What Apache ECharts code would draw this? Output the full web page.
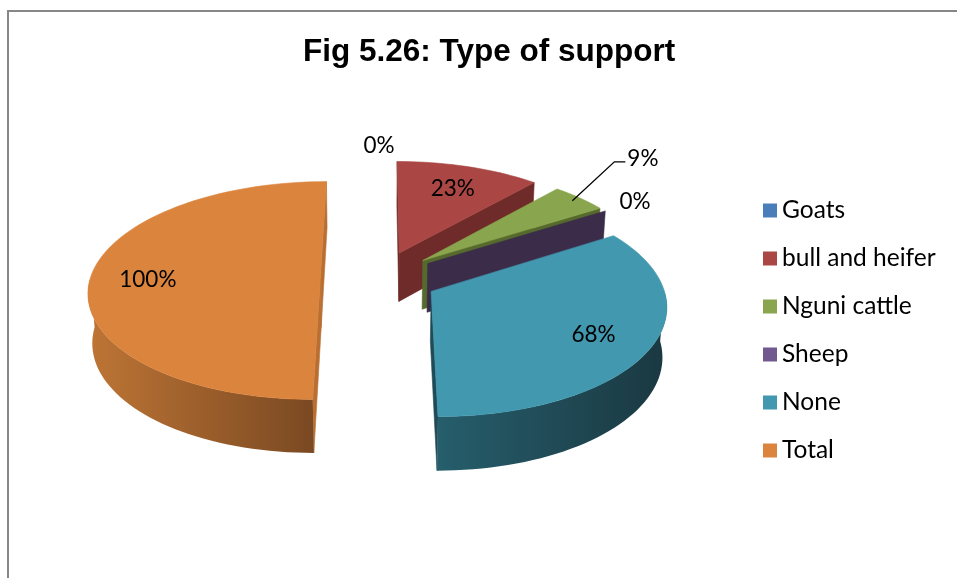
<!DOCTYPE html>
<html>
<head>
<meta charset="utf-8">
<script src="https://cdn.jsdelivr.net/npm/echarts@6/dist/echarts.min.js"></script>
<style>
  html, body { margin: 0; padding: 0; background: #fff; }
  #chart { width: 957px; height: 578px; }
</style>
</head>
<body>
<div id="chart"></div>
<script>
// Slice categories and their shares (percent of respondents)
const categories = ['Goats', 'bull and heifer', 'Nguni cattle', 'Sheep', 'None', 'Total'];
const shares = [0, 23, 9, 0, 68, 100];

// Face colours: top surface, cut faces, and outer wall gradient (light -> dark)
const topColors = ['#4A7EBB', '#AA4643', '#89A54E', '#71588F', '#4198AF', '#DB843D'];
const cutColors = ['#2B4A6E', '#6E2B29', '#556A2C', '#3B2C4A', '#1E4B57', '#B86F31'];
const wallColors = [
  ['#3E6A9C', '#243F5E'], ['#8A3836', '#5A2321'], ['#71893F', '#465726'],
  ['#5D4875', '#382B47'], ['#265E6C', '#1A3841'], ['#BE7535', '#7A4922']
];

// Camera / pie setup for the tilted 3D pie
const view = { cx: 379, cy: 278, scale: 230, tilt: 27.85, dist: 7.7, explode: 0.255, thickness: 0.246 };

const rad = Math.PI / 180;
const sinA = Math.sin(view.tilt * rad), cosA = Math.cos(view.tilt * rad);
const cam = [0, view.dist * sinA, -view.dist * cosA];
const total = shares.reduce((a, b) => a + b, 0);

function project(X, Y, Z) {
  const yc = Z * sinA + Y * cosA;
  const dc = Z * cosA - Y * sinA;
  const s = view.dist / (view.dist + dc);
  return [view.cx + view.scale * X * s, view.cy - view.scale * yc * s];
}

// Angular layout: clockwise from 12 o'clock, each slice pushed out along its mid angle
function layoutSlices() {
  let acc = 0;
  return shares.map(v => {
    const a1 = acc / total * 2 * Math.PI; acc += v;
    const a2 = acc / total * 2 * Math.PI;
    const mid = (a1 + a2) / 2;
    return { a1, a2, mid, ox: view.explode * Math.sin(mid), oz: view.explode * Math.cos(mid) };
  });
}
const slices = layoutSlices();

function pt(sl, t, r, Y) { return [sl.ox + r * Math.sin(t), Y, sl.oz + r * Math.cos(t)]; }
function camDist(p) { return Math.hypot(p[0] - cam[0], p[1] - cam[1], p[2] - cam[2]); }
function centroid(list) {
  const c = [0, 0, 0];
  list.forEach(p => { c[0] += p[0]; c[1] += p[1]; c[2] += p[2]; });
  return c.map(v => v / list.length);
}
function facesCamera(c, n) {
  return n[0] * (cam[0] - c[0]) + n[1] * (cam[1] - c[1]) + n[2] * (cam[2] - c[2]) > 1e-6;
}

// Build every visible face of the pie once, then order them back to front
const faces = [];
slices.forEach((sl, i) => {
  const h = -view.thickness;
  [[sl.a1, -1], [sl.a2, 1]].forEach(([t, sg]) => {
    const p3 = [pt(sl, t, 0, 0), pt(sl, t, 1, 0), pt(sl, t, 1, h), pt(sl, t, 0, h)];
    const c = centroid(p3);
    const n = [sg * Math.cos(t), 0, -sg * Math.sin(t)];
    if (facesCamera(c, n)) {
      faces.push({ slice: i, kind: 'cut', pts: p3.map(p => project(...p)), depth: camDist(c) });
    }
  });
  const w1 = Math.max(sl.a1, Math.PI / 2), w2 = Math.min(sl.a2, 1.5 * Math.PI);
  if (w2 > w1) {
    const n = Math.max(2, Math.ceil((w2 - w1) / (2 * rad)));
    const topArc = [], botArc = [];
    for (let k = 0; k <= n; k++) {
      const t = w1 + (w2 - w1) * k / n;
      topArc.push(project(...pt(sl, t, 1, 0)));
      botArc.push(project(...pt(sl, t, 1, h)));
    }
    faces.push({ slice: i, kind: 'wall', pts: topArc.concat(botArc.reverse()),
      depth: camDist(pt(sl, (w1 + w2) / 2, 1, h / 2)) });
  }
  if (sl.a2 > sl.a1) {
    const n = Math.max(2, Math.ceil((sl.a2 - sl.a1) / (2 * rad)));
    const pts = [project(...pt(sl, 0, 0, 0))];
    for (let k = 0; k <= n; k++) {
      pts.push(project(...pt(sl, sl.a1 + (sl.a2 - sl.a1) * k / n, 1, 0)));
    }
    faces.push({ slice: i, kind: 'top', pts, depth: 0 });
  }
});
faces.filter(f => f.kind !== 'top')
  .sort((a, b) => b.depth - a.depth)
  .forEach((f, k) => { f.z2 = 10 + k; });
faces.filter(f => f.kind === 'top').forEach(f => { f.z2 = 500 + f.slice; });

const labelFont = { fontFamily: 'Lato', fontSize: 22.5, fill: '#000' };

function faceElement(f) {
  const i = f.slice;
  let fill;
  if (f.kind === 'top') fill = topColors[i];
  else if (f.kind === 'cut') fill = cutColors[i];
  else fill = new echarts.graphic.LinearGradient(0, 0, 1, 0, [
    { offset: 0, color: wallColors[i][0] }, { offset: 1, color: wallColors[i][1] }
  ]);
  return {
    type: 'polygon', z2: f.z2,
    shape: { points: f.pts },
    style: { fill, stroke: f.kind === 'wall' ? null : fill, lineWidth: 0.6 }
  };
}

function labelElements(i, value) {
  const sl = slices[i];
  const text = value + '%';
  if (value === 0) {
    const p = project(...pt(sl, sl.mid, 1.18, 0));
    return [{ type: 'text', z2: 900, x: p[0], y: p[1],
      style: Object.assign({ text, align: 'center', verticalAlign: 'middle' }, labelFont) }];
  }
  if (value < 10) {
    const s = project(...pt(sl, sl.mid, 0.95, 0));
    const e = [s[0] + 42, s[1] - 39];
    const f = [e[0] + 11, e[1]];
    return [
      { type: 'polyline', z2: 900, shape: { points: [s, e, f] }, style: { stroke: '#000', lineWidth: 1.3, fill: null } },
      { type: 'text', z2: 900, x: f[0] + 2, y: f[1] - 3,
        style: Object.assign({ text, align: 'left', verticalAlign: 'middle' }, labelFont) }
    ];
  }
  const p = project(...pt(sl, sl.mid, 0.75, 0));
  return [{ type: 'text', z2: 900, x: p[0], y: p[1] + 2,
    style: Object.assign({ text, align: 'center', verticalAlign: 'middle' }, labelFont) }];
}

const chart = echarts.init(document.getElementById('chart'), null, { renderer: 'canvas' });

chart.setOption({
  animation: false,
  backgroundColor: '#fff',
  color: topColors,
  title: {
    text: 'Fig 5.26: Type of support',
    left: 298, top: 31,
    textStyle: { fontFamily: 'Liberation Sans', fontWeight: 'bold', fontSize: 31.5, color: '#000' }
  },
  legend: {
    orient: 'vertical', left: 763, top: 198, padding: 0,
    itemWidth: 14, itemHeight: 14, itemGap: 23, icon: 'rect',
    selectedMode: false,
    data: categories,
    textStyle: { fontFamily: 'Lato', fontSize: 24.5, lineHeight: 25, color: '#000' }
  },
  graphic: [{
    type: 'rect', silent: true, z: -1,
    shape: { x: 8, y: 11, width: 1000, height: 1000 },
    style: { fill: null, stroke: '#878787', lineWidth: 2 }
  }],
  series: categories.map((name, i) => ({
    type: 'custom',
    name,
    coordinateSystem: 'none',
    silent: true,
    itemStyle: { color: topColors[i] },
    data: [[shares[i]]],
    renderItem: (params, api) => {
      const value = api.value(0);
      const children = faces.filter(f => f.slice === i).map(faceElement)
        .concat(labelElements(i, value));
      return { type: 'group', children };
    }
  }))
});
</script>
</body>
</html>
